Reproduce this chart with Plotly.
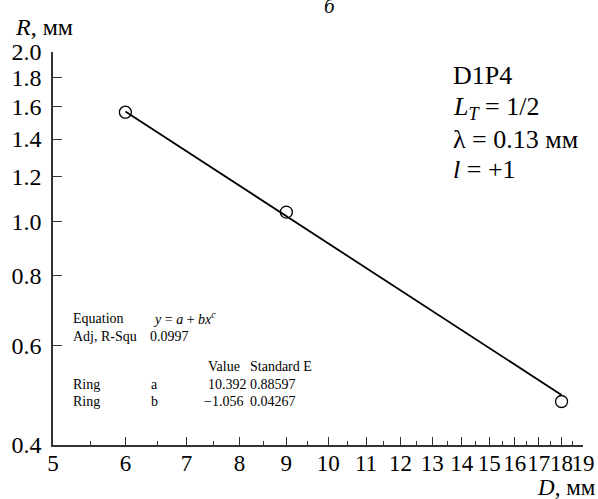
import plotly.graph_objects as go

# data
D_points = [6, 9, 18]
R_points = [1.563, 1.038, 0.478]
fit_D = [6, 18]
fit_R = [1.567, 0.491]

x_ticks = list(range(5, 20))
x_minor = [v + 0.5 for v in range(5, 19)]
y_ticks = [0.4, 0.6, 0.8, 1.0, 1.2, 1.4, 1.6, 1.8, 2.0]
y_ticktext = ["0.4", "0.6", "0.8", "1.0", "1.2", "1.4", "1.6", "1.8", "2.0"]

W, H = 598, 499
L, R_, T, B = 53, 15, 52, 54
PW = W - L - R_
PH = H - T - B


def px(x):
    return (x - L) / PW


def py(y):
    return (H - B - y) / PH


FONT = "Liberation Serif, Times New Roman, DejaVu Serif, serif"

fig = go.Figure()
fig.add_trace(go.Scatter(x=fit_D, y=fit_R, mode="lines",
                         line=dict(color="black", width=1.8), showlegend=False))
fig.add_trace(go.Scatter(x=D_points, y=R_points, mode="markers",
                         marker=dict(symbol="circle-open", size=12, color="black",
                                     line=dict(width=1.3, color="black")),
                         showlegend=False))

fig.update_layout(
    width=W, height=H,
    margin=dict(l=L, r=R_, t=T, b=B, autoexpand=False),
    paper_bgcolor="white", plot_bgcolor="white",
    font=dict(family=FONT, color="black", size=24),
    xaxis=dict(type="log", range=[0.69897, 1.27875], automargin=False,
               tickmode="array", tickvals=x_ticks, ticktext=[str(v) for v in x_ticks],
               tickangle=0, ticklabelstandoff=-3,
               ticks="inside", ticklen=8, tickwidth=1, tickcolor="#333",
               showline=True, linecolor="#333", linewidth=1.5,
               showgrid=False, zeroline=False,
               minor=dict(tickmode="array", tickvals=x_minor, ticks="inside",
                          ticklen=4, tickwidth=1, tickcolor="#333", showgrid=False),
               tickfont=dict(family=FONT, size=23)),
    yaxis=dict(type="log", range=[-0.39794, 0.30103], automargin=False,
               tickmode="array", tickvals=y_ticks, ticktext=y_ticktext,
               ticklabelstandoff=5,
               ticks="inside", ticklen=9, tickwidth=1, tickcolor="#333",
               showline=True, linecolor="#333", linewidth=1.5,
               showgrid=False, zeroline=False,
               tickfont=dict(family=FONT, size=24)),
)

ann = []


def add(text, x, y, size, xanchor="left", yanchor="middle"):
    ann.append(dict(text=text, x=px(x), y=py(y), xref="paper", yref="paper",
                    showarrow=False, xanchor=xanchor, yanchor=yanchor,
                    font=dict(family=FONT, size=size, color="black")))


add("<i>R</i>, мм", 13, 27, 24)
add("<i>D</i>, мм", 598, 487, 23, xanchor="right")
add("<i>б</i>", 330, 6, 21, xanchor="center")

add("D1P4", 451, 75, 26)
add("<i>L</i><sub><i>T</i></sub> = 1/2", 451, 108, 26)
add("λ = 0.13 мм", 451, 139, 26)
add("<i>l</i> = +1", 451, 169, 26)

add("Equation", 71, 318, 14)
add("<i>y</i> = <i>a</i> + <i>bx</i><sup><i>c</i></sup>", 151, 318, 14)
add("Adj, R-Squ", 71, 336, 14)
add("0.0997", 148, 336, 14)
add("Value", 206, 366, 14)
add("Standard E", 248, 366, 14)
add("Ring", 71, 384, 14)
add("a", 149, 384, 14)
add("10.392", 206, 384, 14)
add("0.88597", 248, 384, 14)
add("Ring", 71, 401, 14)
add("b", 149, 401, 14)
add("\u22121.056", 202, 401, 14)
add("0.04267", 248, 401, 14)

fig.update_layout(annotations=ann)
fig.write_html("out.html", config={"displayModeBar": False},
               post_script="document.body.style.margin='0px';")
